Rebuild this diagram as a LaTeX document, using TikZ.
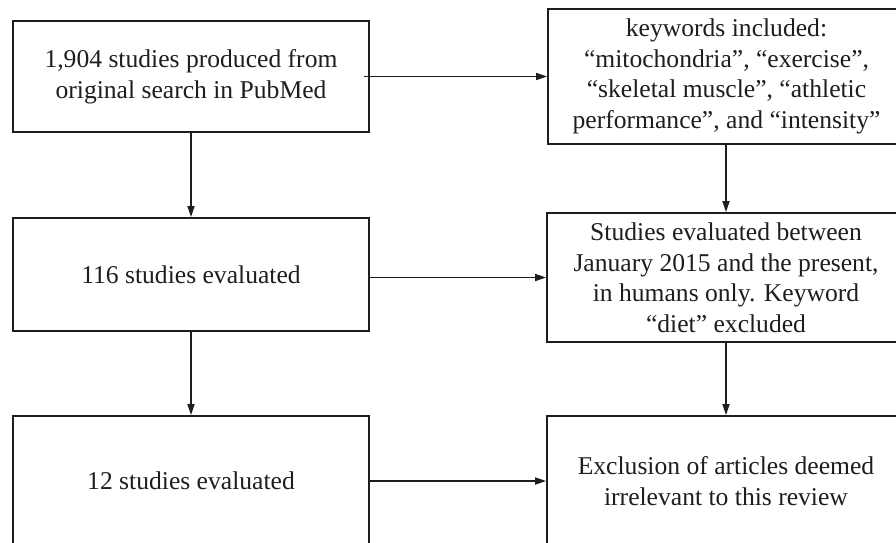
\documentclass[tikz,border=0pt]{standalone}
\usepackage{fontspec}
\setmainfont{Liberation Serif}
\usetikzlibrary{arrows.meta}
\definecolor{ink}{HTML}{1E1E1E}
\begin{document}
\begin{tikzpicture}[x=1pt,y=-1pt,
  box/.style={draw=ink,line width=1.8pt,rectangle,align=center,text=ink,
    font=\fontsize{25.6}{30.5}\selectfont,inner sep=0pt},
  conn/.style={draw=ink,line width=1.6pt,-{Triangle[length=11pt,width=7pt]}}]
\clip (0,0) rectangle (896,542);
\fill[white] (0,0) rectangle (896,542);
\node[box,minimum width=356pt,minimum height=111pt] (A) at (191,76.5)
  {1,904 studies produced from\\original search in PubMed};
\node[box,minimum width=356pt,minimum height=113pt] (B) at (191,274.5)
  {116 studies evaluated};
\node[box,minimum width=356pt,minimum height=130pt] (C) at (191,481)
  {12 studies evaluated};
\node[box,minimum width=357pt,minimum height=135pt] (R1) at (726.5,76.5)
  {keywords included:\\``mitochondria'', ``exercise'',\\``skeletal muscle'', ``athletic\\performance'', and ``intensity''};
\node[box,minimum width=358pt,minimum height=129pt] (R2) at (726,277.5)
  {Studies evaluated between\\January 2015 and the present,\\in humans only. Keyword\\``diet'' excluded};
\node[box,minimum width=358pt,minimum height=130pt] (R3) at (726,481)
  {Exclusion of articles deemed\\irrelevant to this review};
\draw[conn] ([xshift=-6pt]A.east) -- (R1.west);
\draw[conn] (B.east |- R2.west) -- (R2.west);
\draw[conn] (C.east) -- (R3.west);
\draw[conn] (A.south) -- (B.north);
\draw[conn] (B.south) -- (C.north);
\draw[conn] (R1.south -| R2.north) -- (R2.north);
\draw[conn] (R2.south) -- (R3.north);
\end{tikzpicture}
\end{document}
